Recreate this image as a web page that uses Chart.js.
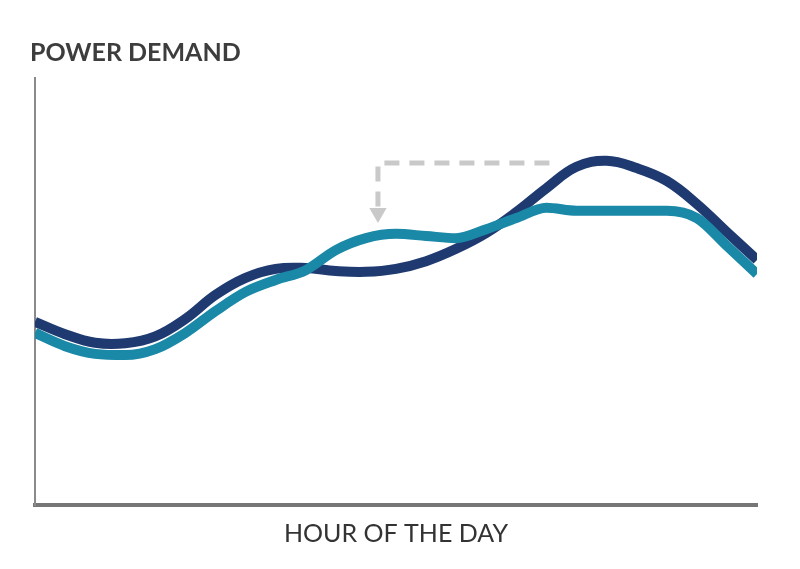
<!DOCTYPE html>
<html>
<head>
<meta charset="utf-8">
<script src="https://cdn.jsdelivr.net/npm/chart.js@4"></script>
<style>
  html, body { margin: 0; padding: 0; background: #fff; }
  #wrap { width: 800px; height: 569px; }
</style>
</head>
<body>
<div id="wrap"><canvas id="chart"></canvas></div>
<script>
'use strict';

// hour of the day, 0..24
var hours = [0, 1, 2, 3, 4, 5, 6, 7, 8, 9, 10, 11, 12,
    13, 14, 15, 16, 17, 18, 19, 20, 21, 22, 23, 24];

// original demand (dark line)
var demandBase = [42.9, 40.0, 38.0, 37.9, 39.5, 43.6, 49.2, 53.2, 55.3, 55.5, 54.8, 54.6, 55.3,
    57.1, 60.0, 63.7, 68.6, 74.2, 79.2, 80.6, 78.9, 75.9, 70.5, 63.9, 57.4];

// shifted demand (teal line)
var demandShifted = [40.3, 37.2, 35.4, 35.1, 36.5, 40.3, 45.4, 49.9, 52.7, 55.0, 59.7, 62.5, 63.5,
    63.0, 62.5, 64.6, 67.2, 69.6, 68.9, 68.9, 68.9, 68.9, 67.2, 60.7, 54.1];

// dashed arrow showing the peak moved earlier in the day
var arrowHours = [17.1, 11.4, 11.4];
var arrowLevels = [80.1, 80.1, 68.4];

function toPoints(xs, ys) {
    return xs.map(function (x, i) {
        return {x: x, y: ys[i]};
    });
}

var textColor = '#333333';

new Chart(document.getElementById('chart'), {
    type: 'line',
    data: {
        datasets: [{
            label: 'Shifted',
            data: toPoints(arrowHours, arrowLevels),
            borderColor: '#c9c9c9',
            borderWidth: 5,
            borderDash: [15, 10],
            tension: 0,
            pointRadius: [0, 0, 10],
            pointStyle: 'triangle',
            rotation: 180,
            pointBackgroundColor: '#c9c9c9',
            pointBorderWidth: 0,
            order: 3,
        }, {
            label: 'Shifted demand',
            data: toPoints(hours, demandShifted),
            borderColor: '#1a88a7',
            borderWidth: 10,
            cubicInterpolationMode: 'monotone',
            pointRadius: 0,
            clip: 0,
            order: 1,
        }, {
            label: 'Base demand',
            data: toPoints(hours, demandBase),
            borderColor: '#1f3a70',
            borderWidth: 10,
            tension: 0.4,
            pointRadius: 0,
            clip: 0,
            order: 2,
        }]
    },
    options: {
        responsive: true,
        maintainAspectRatio: false,
        animation: false,
        events: [],
        layout: {
            padding: {left: 30, right: 43, top: 0, bottom: 14},
        },
        plugins: {
            legend: {
                display: false,
            },
            tooltip: {
                enabled: false,
            },
            title: {
                display: true,
                text: 'POWER DEMAND',
                align: 'start',
                color: '#3d3d3d',
                font: {family: 'Lato', size: 25, weight: 'bold', lineHeight: 1.2},
                padding: {top: 38, bottom: 10},
            },
        },
        scales: {
            x: {
                type: 'linear',
                min: 0,
                max: 24,
                ticks: {display: false},
                grid: {display: false, drawTicks: false},
                border: {display: true, color: '#767676', width: 4},
                title: {
                    display: true,
                    text: 'HOUR OF THE DAY',
                    color: textColor,
                    font: {family: 'Lato', size: 25, lineHeight: 1.2},
                    padding: {top: 14, bottom: 6},
                },
            },
            y: {
                min: 0,
                max: 100,
                ticks: {display: false},
                grid: {display: false, drawTicks: false},
                border: {display: true, color: '#8a8a8a', width: 2},
                afterFit: function (scale) {
                    scale.width = 5;
                },
            },
        },
    },
});
</script>
</body>
</html>
